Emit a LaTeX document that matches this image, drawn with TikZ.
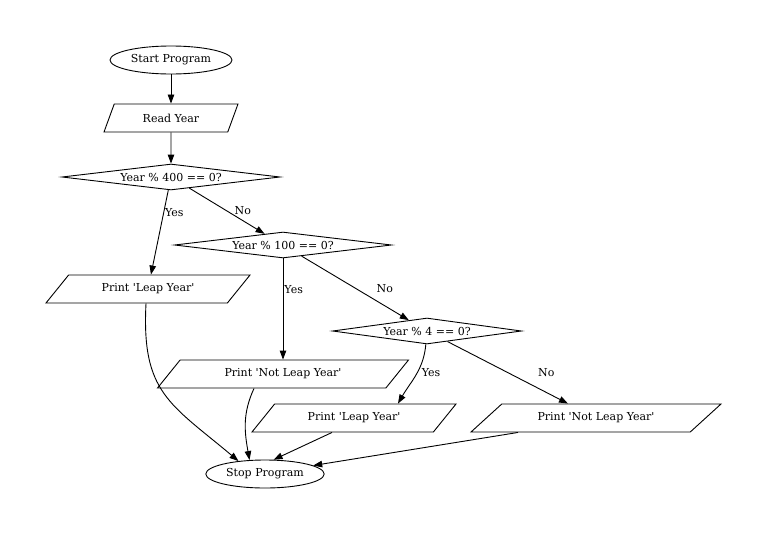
\documentclass[tikz,border=0pt]{standalone}
\usepackage{fontspec}
\setmainfont{DejaVu Serif}
\usetikzlibrary{arrows.meta,positioning,shapes.geometric}
\tikzset{
    %Define standard arrow tip
    >={Triangle[length=9pt,width=6.5pt]},
    %Define style for start and stop
    term/.style={
           ellipse,
           draw=black, line width=0.9pt,
           inner xsep=3pt, inner ysep=0pt,
           minimum height=28pt},
    % parallelogram for reading and printing
    io/.style 2 args={
           trapezium,
           trapezium left angle=#1,
           trapezium right angle=#2,
           trapezium stretches body,
           draw=black, line width=0.9pt,
           minimum height=28pt},
    % diamond for the tests
    cond/.style={
           diamond, aspect=8,
           draw=black, line width=0.9pt,
           inner sep=1pt,
           minimum height=26pt},
    % Define arrow style
    pil/.style={
           ->,
           line width=0.9pt},
    % Yes and No
    lbl/.style={inner sep=1pt, anchor=west}
}
\newcommand{\q}{\textquotesingle}

\begin{document}
\begin{tikzpicture}[node distance=0mm, on grid, font=\fontsize{11}{13}\selectfont]
\useasboundingbox (-171pt,60pt) rectangle (597pt,-476pt);
\node[term] (start) {Start Program};
\node[io={56}{124}, minimum width=134pt, below=58pt of start] (read) {Read Year};
\node[cond, minimum width=218pt, below=59pt of read] (d400) {Year \% 400 == 0?};
\node[io={37}{143}, minimum width=204pt, below left=112pt and 23pt of d400] (pl1) {Print \q Leap Year\q};
\node[cond, minimum width=217pt, below right=68pt and 112pt of d400] (d100) {Year \% 100 == 0?};
\node[io={37}{143}, minimum width=251pt, below=129pt of d100] (pnl1) {Print \q Not Leap Year\q};
\node[cond, minimum width=189pt, below right=86pt and 144pt of d100] (d4) {Year \% 4 == 0?};
\node[io={37}{143}, minimum width=204pt, below left=87pt and 73pt of d4] (pl2) {Print \q Leap Year\q};
\node[io={29}{151}, minimum width=250pt, below right=87pt and 169pt of d4] (pnl2) {Print \q Not Leap Year\q};
\node[term, below left=100pt and 18pt of pnl1] (stop) {Stop Program};

\draw[pil] (start) -- (read);
\draw[pil] (read) -- (d400);
\draw[pil] (d400) -- node[lbl, pos=0.27] {Yes} (pl1);
\draw[pil] (d400) -- node[lbl, pos=0.49, xshift=7pt] {No} (d100);
\draw[pil] (d100) -- node[lbl, pos=0.31] {Yes} (pnl1);
\draw[pil] (d100) -- node[lbl, pos=0.5, xshift=20pt] {No} (d4);
\draw[pil] (d4) to[out=-95, in=60] node[lbl, pos=0.45, xshift=3pt] {Yes} ([xshift=44pt]pl2.north);
\draw[pil] (d4) -- node[lbl, pos=0.5, xshift=29pt] {No} (pnl2);

\draw[pil] ([xshift=-2pt]pl1.south) to[out=-93, in=140, looseness=1.25] (stop.154);
\draw[pil] ([xshift=-29pt]pnl1.south) to[out=-115, in=100] (stop.138);
\draw[pil] ([xshift=-22pt]pl2.south) -- (stop.59);
\draw[pil] ([xshift=-78pt]pnl2.south) -- (stop.10);
\end{tikzpicture}
\end{document}
